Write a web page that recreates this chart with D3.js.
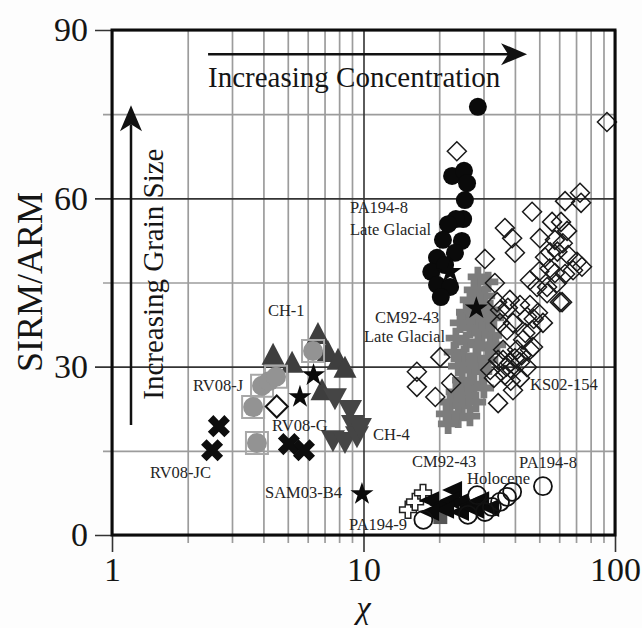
<!DOCTYPE html>
<html>
<head>
<meta charset="utf-8">
<script src="https://cdn.jsdelivr.net/npm/d3@7"></script>
<style>
  html, body { margin: 0; padding: 0; background: #fff; }
  svg { display: block; font-family: "Liberation Serif", "Times New Roman", serif; }
</style>
</head>
<body>
<div id="chart"></div>
<script>
// tick values
const X_TICKS_MAJOR = [1, 10, 100];
const X_TICKS_MINOR = [2, 3, 4, 5, 6, 7, 8, 9, 20, 30, 40, 50, 60, 70, 80, 90];
const Y_TICKS_MAJOR = [0, 30, 60, 90];
const Y_TICKS_MINOR = [15, 45, 75];

// series, [chi, SIRM/ARM]
const rv08jcX = [[2.66, 19.4], [2.50, 15.1]];
const rv08gX = [[5.05, 16.2], [5.80, 15.1]];
const rv08jCircles = [[3.64, 22.8], [3.77, 16.4], [3.95, 26.6], [4.21, 27.4], [4.49, 28.2], [6.30, 32.8]];
const rv08jSquares = [[3.64, 22.8], [3.77, 16.4], [3.95, 26.6], [4.49, 28.2], [6.30, 32.8]];
const rv08gDiamond = [[4.52, 22.9]];
const stars = [[5.59, 24.6], [6.33, 28.5], [9.86, 7.3], [22.1, 46.9], [28.1, 40.4]];
const ch1 = [[4.37, 32.1], [5.20, 30.7], [6.59, 35.8], [7.22, 32.6], [7.92, 31.2], [8.44, 29.8], [6.84, 25.8]];
const ch4 = [[7.70, 24.4], [8.84, 22.3], [9.08, 19.6], [7.56, 16.9], [8.44, 16.6], [9.42, 17.6], [9.68, 19.1]];
const pa1948Glacial = [
  [28.5, 76.3], [22.5, 64.0], [25.1, 64.9], [25.8, 62.7], [25.3, 59.7], [24.9, 56.3], [23.3, 56.3],
  [21.7, 55.4], [20.7, 52.6], [24.6, 52.4], [23.1, 50.3], [19.6, 49.4], [18.6, 46.9], [19.6, 44.6],
  [22.1, 44.2], [20.3, 42.4], [21.1, 48.1]
];
const ks02154 = [
  [92.9, 73.6], [23.5, 68.4], [72.6, 61.0], [73.3, 59.2], [63.3, 59.5], [46.8, 57.6], [36.5, 54.7],
  [39.0, 52.9], [40.0, 50.3], [30.4, 49.2], [50.3, 52.9], [56.2, 55.8], [61.0, 55.8], [64.5, 54.2],
  [57.7, 52.6], [55.2, 50.4], [52.7, 49.5], [65.1, 49.9], [70.6, 48.7], [73.9, 47.8], [68.1, 47.2],
  [63.3, 46.5], [57.7, 46.7], [45.9, 45.4], [49.0, 44.2], [53.7, 44.2], [58.8, 44.9], [61.6, 41.5],
  [53.7, 43.1], [38.2, 41.9], [34.9, 40.1], [41.9, 41.0], [49.4, 39.6], [44.7, 38.9], [39.3, 37.8],
  [37.2, 36.5], [46.8, 36.5], [51.7, 37.8], [43.1, 34.8], [40.8, 33.0], [35.9, 33.0], [45.9, 33.0],
  [34.3, 31.2], [38.2, 30.7], [41.9, 30.8], [33.3, 44.9], [20.2, 31.7], [16.3, 29.1], [16.3, 26.4],
  [22.3, 27.1], [19.3, 24.6], [34.3, 23.5], [34.0, 41.5], [37.5, 40.5], [45.9, 41.0], [47.2, 33.5],
  [35.9, 31.2], [39.0, 29.4], [41.9, 28.0], [39.3, 25.8], [44.7, 29.9], [31.9, 29.4], [34.9, 37.8],
  [60.4, 41.5], [37.0, 30.0], [40.0, 31.5], [36.5, 28.5], [42.5, 32.0], [38.5, 27.5], [33.0, 28.0],
  [44.0, 36.0], [47.5, 38.5], [55.0, 47.5], [62.0, 52.0], [59.0, 50.5], [50.0, 47.0]
];
const cm9243Glacial = [
  [28.5, 46.0], [31.3, 45.1], [27.5, 43.7], [30.4, 42.6], [26.5, 41.9], [29.1, 41.0], [31.9, 40.1],
  [25.6, 39.7], [28.0, 38.7], [30.7, 38.0], [33.0, 38.7], [24.2, 37.8], [26.5, 36.9], [29.6, 36.0],
  [32.4, 35.6], [23.3, 35.1], [25.6, 34.4], [28.5, 33.9], [31.9, 33.3], [22.9, 32.6], [25.1, 31.9],
  [28.0, 31.5], [31.3, 31.2], [23.8, 30.1], [26.5, 29.4], [29.6, 29.1], [24.7, 27.6], [27.5, 26.9],
  [23.3, 25.5], [26.0, 24.8], [22.1, 23.7], [24.7, 23.0], [28.0, 23.7], [21.3, 21.6], [23.8, 20.9],
  [26.5, 21.2], [21.7, 19.8], [30.1, 26.2], [33.6, 33.9]
];
const pa1949 = [[15.03, 4.5], [16.03, 5.9], [17.24, 7.5]];
const pa1949Square = [[20.2, 3.2]];
const cm9243Holocene = [
  [22.7, 8.0], [18.4, 6.2], [20.2, 5.3], [22.1, 6.2], [24.2, 5.9], [26.5, 5.3], [29.1, 6.2],
  [21.1, 4.5], [24.2, 4.1], [27.8, 4.5], [18.4, 4.1], [31.9, 4.8]
];
const pa1948Holocene = [[17.3, 2.7], [26.0, 3.6], [28.3, 7.1], [30.4, 4.1], [32.4, 5.0], [34.9, 5.9], [37.2, 6.8], [39.0, 7.7], [51.7, 8.7]];

// annotation text, [label, chi, SIRM/ARM]
const LABELS = [
  ["CH-1", 4.17, 39.0], ["RV08-J", 2.10, 25.7], ["RV08-G", 4.33, 18.5], ["RV08-JC", 1.416, 10.2],
  ["SAM03-B4", 4.06, 6.6], ["CH-4", 10.91, 16.9], ["PA194-8", 8.84, 57.4], ["Late Glacial", 8.84, 53.5],
  ["CM92-43", 11.11, 37.8], ["Late Glacial", 10.05, 34.4], ["KS02-154", 45.92, 25.8],
  ["CM92-43", 15.59, 12.1], ["Holocene", 25.79, 9.1], ["PA194-8", 41.52, 11.9], ["PA194-9", 8.76, 0.9]
];

const W = 642, H = 628;
const M = { left: 112, right: 615, top: 30, bottom: 535 };

const x = d3.scaleLog().domain([1, 100]).range([M.left, M.right]);
const y = d3.scaleLinear().domain([0, 90]).range([M.bottom, M.top]);

const svg = d3.select("#chart").append("svg")
  .attr("width", W).attr("height", H)
  .attr("viewBox", `0 0 ${W} ${H}`);

svg.append("rect").attr("width", W).attr("height", H).attr("fill", "#fdfdfd");
svg.append("rect")
  .attr("x", M.left).attr("y", M.top)
  .attr("width", M.right - M.left).attr("height", M.bottom - M.top)
  .attr("fill", "#fff");

const GRID_LIGHT = "#9c9c9c";
const GRID_DARK = "#333";
const FONT = "Liberation Serif, Times New Roman, serif";

function gridAxis(axis, tr, color, width) {
  const g = svg.append("g").attr("transform", tr).call(axis);
  g.select(".domain").remove();
  g.selectAll(".tick line").attr("stroke", color).attr("stroke-width", width);
  g.attr("font-family", FONT).attr("font-size", 34);
  g.selectAll(".tick text").attr("fill", "#151515");
  return g;
}

// light grid, runs a little past the frame as minor ticks
gridAxis(d3.axisBottom(x).tickValues(X_TICKS_MINOR).tickSize(-(M.bottom + 8 - M.top)).tickFormat(""),
  `translate(0,${M.bottom + 8})`, GRID_LIGHT, 1.7);
gridAxis(d3.axisLeft(y).tickValues(Y_TICKS_MINOR).tickSize(-(M.right - (M.left - 9))).tickFormat(""),
  `translate(${M.left - 9},0)`, GRID_LIGHT, 1.7);

// dark grid + labels
gridAxis(d3.axisBottom(x).tickValues(X_TICKS_MAJOR).tickSize(-(M.bottom + 17 - M.top)).tickPadding(5).tickFormat(d3.format("d")),
  `translate(0,${M.bottom + 17})`, GRID_DARK, 1.6);
gridAxis(d3.axisLeft(y).tickValues(Y_TICKS_MAJOR).tickSize(-(M.right - (M.left - 17))).tickPadding(7).tickFormat(d3.format("d")),
  `translate(${M.left - 17},0)`, GRID_DARK, 1.6);

// shapes
const diamondPath = (r) => `M0,${-r}L${r},0L0,${r}L${-r},0Z`;
const squarePath = (s) => `M${-s / 2},${-s / 2}h${s}v${s}h${-s}Z`;
const triUpPath = (w, h) => `M0,${-h * 0.55}L${w / 2},${h * 0.45}L${-w / 2},${h * 0.45}Z`;
const triDownPath = (w, h) => `M0,${h * 0.55}L${w / 2},${-h * 0.45}L${-w / 2},${-h * 0.45}Z`;
const triLeftPath = (w, h) => `M${-w * 0.55},0L${w * 0.45},${-h / 2}L${w * 0.45},${h / 2}Z`;
const crossPath = d3.symbol(d3.symbolCross);
const starPath = d3.symbol(d3.symbolStar);

const markLayer = svg.append("g");

function drawMarks(data, d, style, rotate) {
  const sel = markLayer.append("g").selectAll("path")
    .data(data)
    .join("path")
    .attr("d", d)
    .attr("transform", (p) => `translate(${x(p[0])},${y(p[1])})${rotate ? ` rotate(${rotate})` : ""}`);
  Object.entries(style).forEach(([k, v]) => sel.attr(k, v));
}

drawMarks(ch1, triUpPath(23, 22), { fill: "#3e3e3e" });
drawMarks(ch4, triDownPath(24, 22), { fill: "#454545" });
drawMarks(rv08jSquares, squarePath(22), { fill: "none", stroke: "#a8a8a8", "stroke-width": 2 });
drawMarks(rv08jCircles, d3.symbol(d3.symbolCircle, Math.PI * 10 * 10)(), { fill: "#939393" });
drawMarks(rv08gDiamond, diamondPath(11), { fill: "#fff", stroke: "#111", "stroke-width": 2 });
drawMarks(rv08jcX.concat(rv08gX), crossPath.size(5 * 7.8 * 7.8)(), { fill: "#0d0d0d" }, 45);
drawMarks(cm9243Glacial, crossPath.size(5 * 6.8 * 6.8)(), { fill: "#7c7c7c" });
drawMarks(ks02154, diamondPath(9.5), { fill: "none", stroke: "#1a1a1a", "stroke-width": 1.5 });
drawMarks(pa1948Glacial, d3.symbol(d3.symbolCircle, Math.PI * 9 * 9)(), { fill: "#0a0a0a" });
drawMarks(stars, starPath.size(165)(), { fill: "#0a0a0a" });
drawMarks(pa1949, crossPath.size(5 * 5.6 * 5.6)(), { fill: "#fff", stroke: "#222", "stroke-width": 1.5 });
drawMarks(pa1949Square, squarePath(14), { fill: "#555" });
drawMarks(cm9243Holocene, triLeftPath(20, 18), { fill: "#0a0a0a" });
drawMarks(pa1948Holocene, d3.symbol(d3.symbolCircle, Math.PI * 9 * 9)(), { fill: "none", stroke: "#111", "stroke-width": 1.8 });

// frame
svg.append("rect")
  .attr("x", M.left).attr("y", M.top)
  .attr("width", M.right - M.left).attr("height", M.bottom - M.top)
  .attr("fill", "none").attr("stroke", "#0b0b0b").attr("stroke-width", 3);

// arrows
const arrowHead = "M0,0L-26,-11L-19,0L-26,11Z";
const hx0 = x(2.41), hx1 = x(44.7), hy = y(85.7);
svg.append("line").attr("x1", hx0).attr("x2", hx1 - 19).attr("y1", hy).attr("y2", hy)
  .attr("stroke", "#111").attr("stroke-width", 2.5);
svg.append("path").attr("d", arrowHead).attr("transform", `translate(${hx1},${hy})`).attr("fill", "#111");

const vx = x(1.19), vy0 = y(19.6), vy1 = y(76.6);
svg.append("line").attr("x1", vx).attr("x2", vx).attr("y1", vy0).attr("y2", vy1 + 19)
  .attr("stroke", "#111").attr("stroke-width", 2.5);
svg.append("path").attr("d", arrowHead).attr("transform", `translate(${vx},${vy1}) rotate(-90)`).attr("fill", "#111");

svg.append("text")
  .attr("x", x(2.41)).attr("y", y(79.8))
  .attr("font-family", FONT).attr("font-size", 29).attr("fill", "#151515")
  .text("Increasing Concentration");

svg.append("text")
  .attr("transform", `translate(${x(1.595)},${y(24.1)}) rotate(-90)`)
  .attr("font-family", FONT).attr("font-size", 29).attr("fill", "#151515")
  .text("Increasing Grain Size");

// series labels
svg.append("g").selectAll("text")
  .data(LABELS)
  .join("text")
  .attr("x", (d) => x(d[1]))
  .attr("y", (d) => y(d[2]))
  .attr("font-family", FONT).attr("font-size", 16.5).attr("fill", "#252525")
  .text((d) => d[0]);

// axis titles
svg.append("text")
  .attr("transform", `translate(42,282) rotate(-90)`)
  .attr("text-anchor", "middle")
  .attr("font-family", FONT).attr("font-size", 36).attr("fill", "#151515")
  .text("SIRM/ARM");

svg.append("text")
  .attr("x", x(10)).attr("y", 618)
  .attr("text-anchor", "middle")
  .attr("font-family", FONT).attr("font-style", "italic").attr("font-size", 32).attr("fill", "#151515")
  .text("χ");
</script>
</body>
</html>
